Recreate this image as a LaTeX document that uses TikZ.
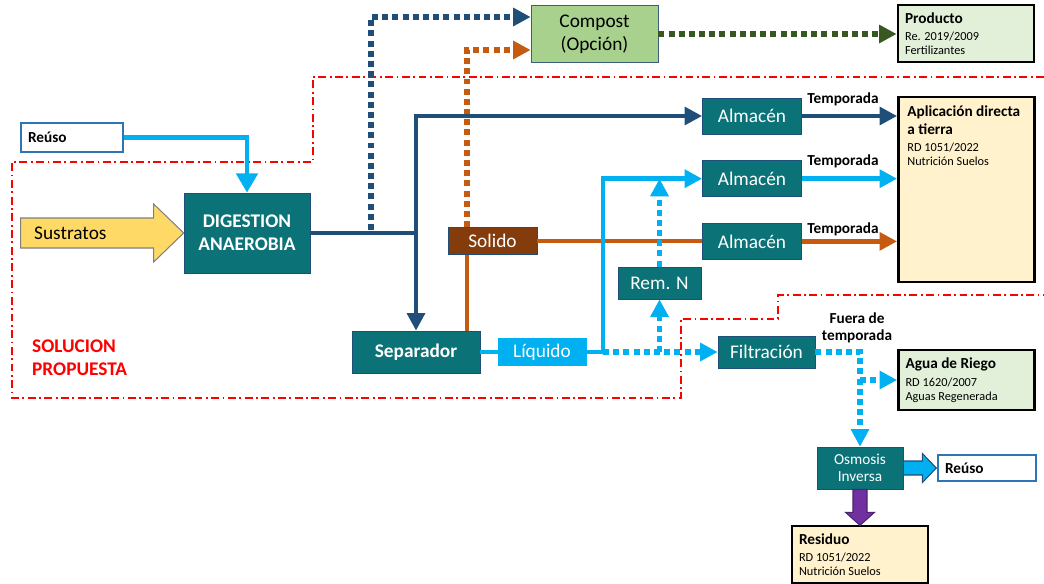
\documentclass[tikz,border=0pt]{standalone}
\definecolor{dteal}{HTML}{0B7378}
\definecolor{dblue}{HTML}{1F4E79}
\definecolor{lblue}{HTML}{00B0F0}
\definecolor{oorange}{HTML}{C55A11}
\definecolor{dgreen}{HTML}{385723}
\definecolor{solbrown}{HTML}{843C0C}
\definecolor{compgreen}{HTML}{A9D18E}
\definecolor{palegreen}{HTML}{E2F0D9}
\definecolor{cream}{HTML}{FFF2CC}
\definecolor{sustyellow}{HTML}{FFD966}
\definecolor{rpurple}{HTML}{7030A0}
\definecolor{reblue}{HTML}{2E75B6}
\usepackage{fontspec}
\setmainfont{Carlito}
\usepackage{tikz}
\usetikzlibrary{arrows.meta,positioning}
\newcommand{\bigtxt}{\fontsize{11}{13}\selectfont}
\newcommand{\midtxt}{\fontsize{8.7}{10}\selectfont}
\newcommand{\smltxt}{\fontsize{7}{8.5}\selectfont}

\begin{document}
\begin{tikzpicture}[x=0.02cm, y=-0.02cm,
      tbox/.style={draw=dblue, fill=dteal, text=white, font=\bigtxt,
                   align=center, inner sep=1pt},
      ybox/.style={draw=black, line width=1.6pt, fill=cream, font=\midtxt,
                   align=flush left, inner xsep=4pt, text width=2.72cm-8pt},
      gbox/.style={draw=black, line width=1.6pt, fill=palegreen, font=\midtxt,
                   align=flush left, inner xsep=4pt, text width=2.72cm-8pt},
      rbox/.style={draw=reblue, line width=1.3pt, fill=white,
                   font=\midtxt\bfseries, align=flush left, inner xsep=4pt},
      arr/.style={-{Triangle[length=10pt,width=10pt]}, line width=2.8pt},
      dot/.style={dash pattern=on 3.4pt off 2.4pt, line width=3.4pt},
      seas/.style={font=\midtxt\bfseries, align=center},
      blk/.style={line width=0.6pt, line join=miter},
      bnd/.style={draw=red, line width=0.9pt,
                  dash pattern=on 4.5pt off 2pt on 1pt off 2pt}
  ]
    \useasboundingbox (0,0) rectangle (1044,584);

    % zona de la solucion propuesta
    \draw[bnd] (1044,77) -- (313,77) -- (313,162) -- (12,162) -- (12,398)
      -- (681,398) -- (681,319) -- (778,319) -- (778,295) -- (1044,295);
    \node[font=\bigtxt\bfseries, text=red, align=left, anchor=west]
      (solprop) at (26,358) {SOLUCION\\PROPUESTA};

    % nodos
    \node[tbox, font=\bigtxt\bfseries, minimum width=2.52cm, minimum height=1.6cm]
      (dig) at (247,233) {DIGESTION\\ANAEROBIA};
    \node[rbox, text width=2.04cm-8pt, minimum height=0.58cm] (reuso) at (72,137.5) {Reúso};
    \node[tbox, font=\bigtxt\bfseries, minimum width=2.56cm, minimum height=0.84cm]
      (sep) at (416,352) {Separador};
    \node[tbox, fill=solbrown, minimum width=1.78cm, minimum height=0.54cm]
      (sol) at (492.5,241) {Solido};
    \node[tbox, draw=lblue, fill=lblue, minimum width=1.76cm, minimum height=0.54cm]
      (liq) at (542,352) {Líquido};
    \node[tbox, minimum width=1.98cm, minimum height=0.72cm] (alm1) at (752,116) {Almacén};
    \node[tbox, minimum width=1.98cm, minimum height=0.72cm, below=0.52cm of alm1] (alm2) {Almacén};
    \node[tbox, minimum width=1.98cm, minimum height=0.72cm, below=0.52cm of alm2] (alm3) {Almacén};
    \node[tbox, minimum width=1.66cm, minimum height=0.64cm] (remn) at (659.5,283) {Rem. N};
    \node[tbox, minimum width=1.94cm, minimum height=0.64cm] (filt) at (766.5,352) {Filtración};
    \node[tbox, font=\midtxt, minimum width=1.72cm, minimum height=0.84cm]
      (osm) at (860,468) {Osmosis\\Inversa};
    \node[rbox, text width=1.96cm-8pt, minimum height=0.52cm] (reuso2) at (987,468) {Reúso};
    \node[draw=dblue!70!gray, fill=compgreen, font=\bigtxt, align=center,
          minimum width=2.54cm, minimum height=1.14cm] (comp) at (594.5,34) {Compost\\(Opción)};
    \node[gbox, minimum height=1.14cm] (prod) at (966,33.5)
      {\textbf{Producto}\\{\smltxt Re. 2019/2009}\\[-2pt]{\smltxt Fertilizantes}};
    \node[ybox, minimum height=3.7cm] (apl) at (966.5,189.5) {};
    \node[font=\midtxt, align=flush left, anchor=north west] (apltxt)
      at ([shift={(4,4)}]apl.north west)
      {\textbf{Aplicación directa}\\\textbf{a tierra}\\{\smltxt RD 1051/2022}\\[-2pt]{\smltxt Nutrición Suelos}};
    \node[gbox, minimum height=1.2cm] (agua) at (966.5,380)
      {\textbf{Agua de Riego}\\{\smltxt RD 1620/2007}\\[-2pt]{\smltxt Aguas Regenerada}};
    \node[ybox, minimum height=1.14cm] (resid) at (860,554.5)
      {\textbf{Residuo}\\{\smltxt RD 1051/2022}\\[-2pt]{\smltxt Nutrición Suelos}};

    % flechas de bloque
    \draw[blk, draw=gray, fill=sustyellow] (dig.west) -- ++(-30,-29) -- ++(0,14)
      -- ++(-133,0) -- ++(0,30) -- ++(133,0) -- ++(0,14) -- cycle;
    \node[font=\bigtxt, anchor=west] (sus) at (28,233) {Sustratos};
    \draw[blk, draw=dblue, fill=lblue] (osm.east) ++(0,-7) -- ++(19,0) -- ++(0,-7.5)
      -- ++(14,14.5) -- ++(-14,14.5) -- ++(0,-7.5) -- ++(-19,0) -- cycle;
    \draw[blk, draw=rpurple!70!black, fill=rpurple] (osm.south) ++(-7,0) -- ++(0,23)
      -- ++(-7.5,0) -- ++(14.5,13) -- ++(14.5,-13) -- ++(-7.5,0) -- ++(0,-23) -- cycle;

    % conexiones
    \coordinate (jn) at (416,233);
    \coordinate (jc) at (371,230);
    \coordinate (lq) at (603,352);
    \draw[arr, dot, dblue] (jc) |- ([yshift=0.34cm]comp.west);
    \draw[arr, dot, oorange] ([xshift=-0.51cm]sol.north) |- ([yshift=-0.32cm]comp.west);
    \draw[arr, dot, dgreen] (comp.east) -- (comp.east -| prod.west);
    \draw[arr, lblue, -{Triangle[length=11pt,width=12pt]}] (reuso.east) -| (dig.north);
    \draw[line width=2.8pt, dblue] (dig.east) -- (jn);
    \draw[arr, dblue] (jn) |- (alm1.west);
    \draw[arr, dblue] (jn) -- (sep.north);
    \path ([xshift=-0.51cm]sol.south) coordinate (so);
    \draw[line width=2.8pt, oorange] (so) -- (so |- sep.north);
    \draw[line width=2.8pt, oorange] (sol.east) -- (sol.east -| alm3.west);
    \draw[line width=2.8pt, lblue] (sep.east) -- (liq.west);
    \draw[arr, lblue] (liq.east) -- (lq) |- (alm2.west);
    \draw[arr, dot, lblue] (lq) -- (filt.west);
    \draw[arr, dot, lblue] (remn.south |- lq) -- (remn.south);
    \draw[arr, dot, lblue] (remn.north) -- (remn.north |- alm2.west);
    \draw[arr, dblue] (alm1.east) -- (alm1.east -| apl.west);
    \draw[arr, lblue] (alm2.east) -- (alm2.east -| apl.west);
    \draw[arr, oorange] (alm3.east) -- (alm3.east -| apl.west);
    \draw[arr, dot, lblue] (filt.east) -| (osm.north);
    \draw[arr, dot, lblue] (osm.north |- agua.west) -- (agua.west);

    % etiquetas
    \node[seas] (tmp1) at (843,99) {Temporada};
    \node[seas] (tmp2) at (843,161) {Temporada};
    \node[seas] (tmp3) at (843,229) {Temporada};
    \node[seas] (fuera) at (857,328) {Fuera de\\temporada};
  \end{tikzpicture}
\end{document}
